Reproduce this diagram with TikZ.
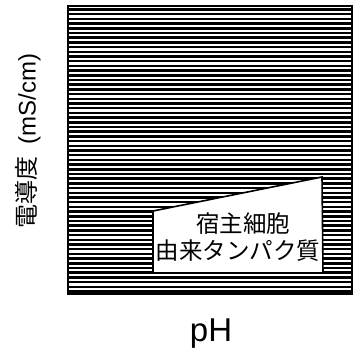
\documentclass[tikz,border=0pt]{standalone}
\usepackage{fontspec}
\setmainfont{Liberation Sans}
\newfontfamily\jpfont{Noto Sans CJK JP}
\begin{document}
\begin{tikzpicture}[x=1pt,y=-1pt,
  hatch/.style={line width=2.5pt},
  frame/.style={line width=2pt},
  gap/.style={fill=white,draw=black,line width=1.6pt,line join=miter},
  lbl/.style={inner sep=0pt,font=\jpfont\fontsize{23.5}{28}\selectfont}]
\useasboundingbox (0,0) rectangle (363,358);
\foreach \i in {0,...,60}
  \draw[hatch] (68,9.5+\i*4.7) -- (352,9.5+\i*4.7);
\draw[frame] (68,6) rectangle (352,294);
\draw[gap] (153,211) -- (322,177) -- (323,273) -- (153,273) -- cycle;
\node[lbl] (t1) at (243,224) {宿主細胞};
\node[lbl] (t2) at (238,251) {由来タンパク質};
\node[inner sep=0pt,rotate=90,font=\fontsize{24}{28}\selectfont] (ylab) at (28,141) {{\jpfont 電導度}\hspace{0.5em}(mS/cm)};
\node[inner sep=0pt,font=\fontsize{33}{38}\selectfont] (xlab) at (211,334) {pH};
\end{tikzpicture}
\end{document}
